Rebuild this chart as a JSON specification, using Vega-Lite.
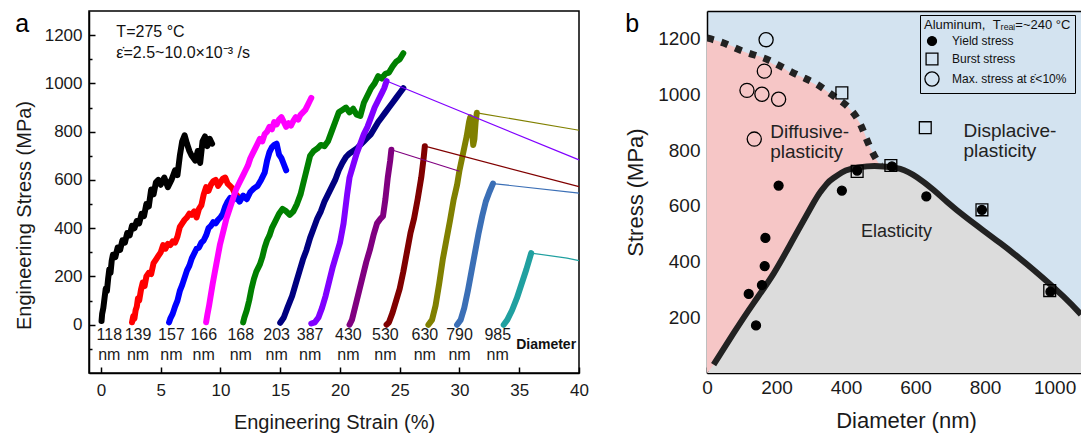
{
  "$schema": "https://vega.github.io/schema/vega-lite/v6.json",
  "padding": {"left": 13, "top": 10, "right": 0, "bottom": 0},
  "config": {
    "font": "Liberation Sans",
    "view": {"stroke": null},
    "axis": {"domainColor": "black", "domainWidth": 1.5, "tickColor": "black", "tickWidth": 1.5, "labelColor": "#1a1a1a", "titleColor": "#1a1a1a", "titleFontWeight": "normal", "grid": false, "labelFlush": false, "labelOverlap": false, "zindex": 1}
  },
  "datasets": {
    "curves": [
      {"c":"118","s":0.05,"v":15},{"c":"118","s":0.1,"v":45},{"c":"118","s":0.2,"v":70},{"c":"118","s":0.3,"v":110},{"c":"118","s":0.4,"v":150},{"c":"118","s":0.5,"v":140},{"c":"118","s":0.6,"v":190},{"c":"118","s":0.7,"v":230},{"c":"118","s":0.8,"v":215},{"c":"118","s":0.9,"v":265},{"c":"118","s":1.0,"v":290},{"c":"118","s":1.2,"v":280},{"c":"118","s":1.4,"v":320},{"c":"118","s":1.6,"v":310},{"c":"118","s":1.8,"v":350},{"c":"118","s":2.0,"v":340},{"c":"118","s":2.2,"v":380},{"c":"118","s":2.4,"v":370},{"c":"118","s":2.6,"v":410},{"c":"118","s":2.8,"v":400},{"c":"118","s":3.0,"v":430},{"c":"118","s":3.2,"v":420},{"c":"118","s":3.4,"v":460},{"c":"118","s":3.6,"v":450},{"c":"118","s":3.8,"v":500},{"c":"118","s":4.0,"v":490},{"c":"118","s":4.2,"v":560},{"c":"118","s":4.4,"v":540},{"c":"118","s":4.6,"v":590},{"c":"118","s":4.8,"v":600},{"c":"118","s":5.0,"v":580},{"c":"118","s":5.3,"v":610},{"c":"118","s":5.6,"v":570},{"c":"118","s":5.9,"v":600},{"c":"118","s":6.2,"v":640},{"c":"118","s":6.4,"v":620},{"c":"118","s":6.6,"v":700},{"c":"118","s":6.8,"v":760},{"c":"118","s":7.0,"v":785},{"c":"118","s":7.2,"v":750},{"c":"118","s":7.4,"v":720},{"c":"118","s":7.6,"v":700},{"c":"118","s":7.9,"v":680},{"c":"118","s":8.1,"v":720},{"c":"118","s":8.3,"v":670},{"c":"118","s":8.5,"v":760},{"c":"118","s":8.7,"v":780},{"c":"118","s":8.9,"v":740},{"c":"118","s":9.1,"v":770},{"c":"118","s":9.3,"v":750},
      {"c":"139","s":2.6,"v":10},{"c":"139","s":2.7,"v":35},{"c":"139","s":2.8,"v":25},{"c":"139","s":2.9,"v":60},{"c":"139","s":3.0,"v":75},{"c":"139","s":3.1,"v":110},{"c":"139","s":3.2,"v":100},{"c":"139","s":3.35,"v":145},{"c":"139","s":3.5,"v":175},{"c":"139","s":3.65,"v":160},{"c":"139","s":3.8,"v":200},{"c":"139","s":4.0,"v":215},{"c":"139","s":4.2,"v":210},{"c":"139","s":4.4,"v":255},{"c":"139","s":4.6,"v":270},{"c":"139","s":4.8,"v":285},{"c":"139","s":5.0,"v":300},{"c":"139","s":5.2,"v":330},{"c":"139","s":5.4,"v":315},{"c":"139","s":5.6,"v":335},{"c":"139","s":5.8,"v":330},{"c":"139","s":6.0,"v":345},{"c":"139","s":6.2,"v":340},{"c":"139","s":6.4,"v":365},{"c":"139","s":6.6,"v":405},{"c":"139","s":6.8,"v":420},{"c":"139","s":7.0,"v":435},{"c":"139","s":7.2,"v":445},{"c":"139","s":7.4,"v":460},{"c":"139","s":7.6,"v":455},{"c":"139","s":7.8,"v":470},{"c":"139","s":8.0,"v":445},{"c":"139","s":8.2,"v":480},{"c":"139","s":8.4,"v":495},{"c":"139","s":8.6,"v":540},{"c":"139","s":8.8,"v":570},{"c":"139","s":9.0,"v":555},{"c":"139","s":9.2,"v":580},{"c":"139","s":9.4,"v":595},{"c":"139","s":9.6,"v":600},{"c":"139","s":9.8,"v":575},{"c":"139","s":10.0,"v":590},{"c":"139","s":10.2,"v":605},{"c":"139","s":10.4,"v":610},{"c":"139","s":10.6,"v":585},{"c":"139","s":10.8,"v":575},{"c":"139","s":11.0,"v":565},{"c":"139","s":11.2,"v":545},{"c":"139","s":11.4,"v":535},
      {"c":"157","s":5.7,"v":10},{"c":"157","s":5.8,"v":25},{"c":"157","s":6.0,"v":45},{"c":"157","s":6.2,"v":75},{"c":"157","s":6.4,"v":100},{"c":"157","s":6.6,"v":140},{"c":"157","s":6.8,"v":165},{"c":"157","s":7.0,"v":195},{"c":"157","s":7.2,"v":225},{"c":"157","s":7.4,"v":245},{"c":"157","s":7.6,"v":275},{"c":"157","s":7.8,"v":295},{"c":"157","s":8.0,"v":315},{"c":"157","s":8.2,"v":320},{"c":"157","s":8.4,"v":340},{"c":"157","s":8.6,"v":350},{"c":"157","s":8.8,"v":370},{"c":"157","s":9.0,"v":400},{"c":"157","s":9.2,"v":410},{"c":"157","s":9.4,"v":425},{"c":"157","s":9.6,"v":420},{"c":"157","s":9.8,"v":435},{"c":"157","s":10.0,"v":445},{"c":"157","s":10.2,"v":460},{"c":"157","s":10.4,"v":490},{"c":"157","s":10.6,"v":510},{"c":"157","s":10.8,"v":525},{"c":"157","s":11.0,"v":515},{"c":"157","s":11.3,"v":530},{"c":"157","s":11.6,"v":510},{"c":"157","s":11.9,"v":535},{"c":"157","s":12.2,"v":520},{"c":"157","s":12.5,"v":550},{"c":"157","s":12.8,"v":565},{"c":"157","s":13.1,"v":575},{"c":"157","s":13.4,"v":600},{"c":"157","s":13.7,"v":630},{"c":"157","s":13.9,"v":680},{"c":"157","s":14.1,"v":715},{"c":"157","s":14.3,"v":735},{"c":"157","s":14.5,"v":745},{"c":"157","s":14.7,"v":750},{"c":"157","s":14.9,"v":705},{"c":"157","s":15.1,"v":690},{"c":"157","s":15.3,"v":665},{"c":"157","s":15.5,"v":640},
      {"c":"166","s":8.8,"v":10},{"c":"166","s":8.9,"v":40},{"c":"166","s":9.05,"v":80},{"c":"166","s":9.2,"v":125},{"c":"166","s":9.35,"v":170},{"c":"166","s":9.5,"v":210},{"c":"166","s":9.65,"v":250},{"c":"166","s":9.8,"v":290},{"c":"166","s":9.95,"v":330},{"c":"166","s":10.1,"v":360},{"c":"166","s":10.3,"v":400},{"c":"166","s":10.5,"v":440},{"c":"166","s":10.7,"v":470},{"c":"166","s":10.9,"v":500},{"c":"166","s":11.1,"v":530},{"c":"166","s":11.3,"v":560},{"c":"166","s":11.5,"v":580},{"c":"166","s":11.7,"v":600},{"c":"166","s":11.9,"v":620},{"c":"166","s":12.1,"v":640},{"c":"166","s":12.3,"v":660},{"c":"166","s":12.5,"v":690},{"c":"166","s":12.7,"v":710},{"c":"166","s":12.9,"v":730},{"c":"166","s":13.1,"v":750},{"c":"166","s":13.3,"v":770},{"c":"166","s":13.5,"v":760},{"c":"166","s":13.7,"v":790},{"c":"166","s":13.9,"v":800},{"c":"166","s":14.1,"v":820},{"c":"166","s":14.3,"v":810},{"c":"166","s":14.5,"v":840},{"c":"166","s":14.7,"v":830},{"c":"166","s":14.9,"v":850},{"c":"166","s":15.1,"v":860},{"c":"166","s":15.3,"v":840},{"c":"166","s":15.5,"v":820},{"c":"166","s":15.7,"v":835},{"c":"166","s":15.9,"v":825},{"c":"166","s":16.1,"v":845},{"c":"166","s":16.3,"v":860},{"c":"166","s":16.5,"v":850},{"c":"166","s":16.7,"v":870},{"c":"166","s":16.9,"v":880},{"c":"166","s":17.1,"v":890},{"c":"166","s":17.3,"v":910},{"c":"166","s":17.5,"v":930},{"c":"166","s":17.6,"v":940},
      {"c":"168","s":11.9,"v":10},{"c":"168","s":12.0,"v":30},{"c":"168","s":12.2,"v":60},{"c":"168","s":12.4,"v":100},{"c":"168","s":12.6,"v":150},{"c":"168","s":12.8,"v":190},{"c":"168","s":13.0,"v":220},{"c":"168","s":13.3,"v":250},{"c":"168","s":13.5,"v":280},{"c":"168","s":13.7,"v":320},{"c":"168","s":13.9,"v":350},{"c":"168","s":14.1,"v":370},{"c":"168","s":14.3,"v":400},{"c":"168","s":14.6,"v":430},{"c":"168","s":14.9,"v":460},{"c":"168","s":15.2,"v":480},{"c":"168","s":15.5,"v":470},{"c":"168","s":15.8,"v":455},{"c":"168","s":16.1,"v":470},{"c":"168","s":16.4,"v":500},{"c":"168","s":16.7,"v":540},{"c":"168","s":16.9,"v":580},{"c":"168","s":17.1,"v":620},{"c":"168","s":17.3,"v":660},{"c":"168","s":17.5,"v":700},{"c":"168","s":17.8,"v":720},{"c":"168","s":18.1,"v":730},{"c":"168","s":18.4,"v":745},{"c":"168","s":18.7,"v":740},{"c":"168","s":19.0,"v":760},{"c":"168","s":19.3,"v":800},{"c":"168","s":19.6,"v":840},{"c":"168","s":19.9,"v":880},{"c":"168","s":20.2,"v":890},{"c":"168","s":20.5,"v":900},{"c":"168","s":20.8,"v":880},{"c":"168","s":21.1,"v":895},{"c":"168","s":21.4,"v":870},{"c":"168","s":21.7,"v":865},{"c":"168","s":22.0,"v":920},{"c":"168","s":22.3,"v":950},{"c":"168","s":22.6,"v":980},{"c":"168","s":22.9,"v":1000},{"c":"168","s":23.2,"v":1030},{"c":"168","s":23.5,"v":1020},{"c":"168","s":23.8,"v":1040},{"c":"168","s":24.1,"v":1045},{"c":"168","s":24.4,"v":1070},{"c":"168","s":24.7,"v":1090},{"c":"168","s":25.0,"v":1100},{"c":"168","s":25.3,"v":1125},
      {"c":"203","s":15.0,"v":8},{"c":"203","s":15.3,"v":30},{"c":"203","s":15.6,"v":70},{"c":"203","s":16.0,"v":120},{"c":"203","s":16.3,"v":170},{"c":"203","s":16.6,"v":220},{"c":"203","s":16.9,"v":270},{"c":"203","s":17.2,"v":310},{"c":"203","s":17.5,"v":360},{"c":"203","s":17.8,"v":400},{"c":"203","s":18.1,"v":440},{"c":"203","s":18.4,"v":470},{"c":"203","s":18.7,"v":510},{"c":"203","s":19.0,"v":540},{"c":"203","s":19.3,"v":570},{"c":"203","s":19.6,"v":600},{"c":"203","s":19.9,"v":640},{"c":"203","s":20.2,"v":670},{"c":"203","s":20.5,"v":695},{"c":"203","s":20.8,"v":710},{"c":"203","s":21.1,"v":720},{"c":"203","s":21.4,"v":730},{"c":"203","s":21.7,"v":745},{"c":"203","s":22.0,"v":760},{"c":"203","s":22.3,"v":775},{"c":"203","s":22.6,"v":790},{"c":"203","s":22.9,"v":815},{"c":"203","s":23.2,"v":840},{"c":"203","s":23.5,"v":860},{"c":"203","s":23.8,"v":880},{"c":"203","s":24.1,"v":900},{"c":"203","s":24.4,"v":920},{"c":"203","s":24.7,"v":940},{"c":"203","s":25.0,"v":960},{"c":"203","s":25.3,"v":980},
      {"c":"387","s":17.6,"v":5},{"c":"387","s":17.9,"v":10},{"c":"387","s":18.2,"v":30},{"c":"387","s":18.5,"v":70},{"c":"387","s":18.8,"v":120},{"c":"387","s":19.1,"v":180},{"c":"387","s":19.4,"v":240},{"c":"387","s":19.7,"v":290},{"c":"387","s":20.0,"v":340},{"c":"387","s":20.3,"v":420},{"c":"387","s":20.6,"v":540},{"c":"387","s":20.8,"v":610},{"c":"387","s":21.1,"v":660},{"c":"387","s":21.4,"v":710},{"c":"387","s":21.7,"v":750},{"c":"387","s":22.0,"v":790},{"c":"387","s":22.3,"v":820},{"c":"387","s":22.6,"v":860},{"c":"387","s":22.9,"v":900},{"c":"387","s":23.2,"v":930},{"c":"387","s":23.5,"v":960},{"c":"387","s":23.7,"v":980},{"c":"387","s":23.9,"v":1010},
      {"c":"430","s":20.8,"v":0},{"c":"430","s":21.0,"v":20},{"c":"430","s":21.3,"v":80},{"c":"430","s":21.6,"v":140},{"c":"430","s":21.9,"v":200},{"c":"430","s":22.2,"v":260},{"c":"430","s":22.5,"v":310},{"c":"430","s":22.8,"v":370},{"c":"430","s":23.1,"v":420},{"c":"430","s":23.4,"v":440},{"c":"430","s":23.6,"v":450},{"c":"430","s":23.8,"v":520},{"c":"430","s":24.0,"v":610},{"c":"430","s":24.2,"v":680},{"c":"430","s":24.3,"v":725},
      {"c":"530","s":23.9,"v":0},{"c":"530","s":24.1,"v":10},{"c":"530","s":24.4,"v":50},{"c":"530","s":24.7,"v":100},{"c":"530","s":25.0,"v":150},{"c":"530","s":25.3,"v":220},{"c":"530","s":25.6,"v":300},{"c":"530","s":25.9,"v":380},{"c":"530","s":26.2,"v":440},{"c":"530","s":26.5,"v":520},{"c":"530","s":26.8,"v":610},{"c":"530","s":27.0,"v":690},{"c":"530","s":27.1,"v":740},
      {"c":"630","s":27.4,"v":0},{"c":"630","s":27.7,"v":20},{"c":"630","s":28.0,"v":80},{"c":"630","s":28.3,"v":170},{"c":"630","s":28.6,"v":270},{"c":"630","s":28.9,"v":350},{"c":"630","s":29.2,"v":430},{"c":"630","s":29.5,"v":515},{"c":"630","s":29.8,"v":580},{"c":"630","s":30.0,"v":640},{"c":"630","s":30.3,"v":710},{"c":"630","s":30.6,"v":780},{"c":"630","s":30.8,"v":840},{"c":"630","s":30.9,"v":860},{"c":"630","s":31.05,"v":800},{"c":"630","s":31.15,"v":745},{"c":"630","s":31.25,"v":770},{"c":"630","s":31.35,"v":840},{"c":"630","s":31.45,"v":878},
      {"c":"790","s":29.8,"v":0},{"c":"790","s":30.1,"v":20},{"c":"790","s":30.4,"v":70},{"c":"790","s":30.7,"v":140},{"c":"790","s":31.0,"v":220},{"c":"790","s":31.3,"v":300},{"c":"790","s":31.6,"v":380},{"c":"790","s":31.9,"v":450},{"c":"790","s":32.2,"v":510},{"c":"790","s":32.5,"v":550},{"c":"790","s":32.8,"v":585},
      {"c":"985","s":33.7,"v":0},{"c":"985","s":34.0,"v":20},{"c":"985","s":34.4,"v":60},{"c":"985","s":34.8,"v":110},{"c":"985","s":35.2,"v":170},{"c":"985","s":35.6,"v":230},{"c":"985","s":36.0,"v":297}
    ],
    "tails": [
      {"c":"387","s":23.9,"v":1010},{"c":"387","s":40,"v":683},
      {"c":"430","s":24.3,"v":725},{"c":"430","s":30.0,"v":636},
      {"c":"530","s":27.1,"v":740},{"c":"530","s":40,"v":572},
      {"c":"630","s":31.45,"v":878},{"c":"630","s":40,"v":806},
      {"c":"790","s":32.8,"v":585},{"c":"790","s":40,"v":545},
      {"c":"985","s":36.0,"v":297},{"c":"985","s":39.0,"v":276},{"c":"985","s":40,"v":266}
    ],
    "alabels": [
      {"s":0.7,"v":-41,"t":"118\nnm"},{"s":3.1,"v":-41,"t":"139\nnm"},{"s":5.9,"v":-41,"t":"157\nnm"},{"s":8.6,"v":-41,"t":"166\nnm"},{"s":11.7,"v":-41,"t":"168\nnm"},{"s":14.7,"v":-41,"t":"203\nnm"},{"s":17.5,"v":-41,"t":"387\nnm"},{"s":20.7,"v":-41,"t":"430\nnm"},{"s":23.8,"v":-41,"t":"530\nnm"},{"s":27.1,"v":-41,"t":"630\nnm"},{"s":30.0,"v":-41,"t":"790\nnm"},{"s":33.2,"v":-41,"t":"985\nnm"}
    ],
    "anotes": [
      {"s":1.29,"v":1191,"t":"T=275 °C"},
      {"s":1.29,"v":1105,"t":"\u03b5\u0307=2.5~10.0×10\u207b\u00b3 /s"}
    ],
    "gray": [
      {"d":0,"v":0},{"d":19,"v":30},{"d":77,"v":144},{"d":134,"v":251},{"d":192,"v":358},{"d":249,"v":483},{"d":307,"v":612},{"d":326,"v":650},{"d":345,"v":680},{"d":364,"v":700},{"d":388,"v":720},{"d":412,"v":732},{"d":460,"v":742},{"d":508,"v":742},{"d":556,"v":733},{"d":604,"v":703},{"d":652,"v":657},{"d":691,"v":614},{"d":748,"v":556},{"d":844,"v":466},{"d":940,"v":370},{"d":1026,"v":274},{"d":1076,"v":210}
    ],
    "solid": [
      {"d":19,"v":30},{"d":77,"v":144},{"d":134,"v":251},{"d":192,"v":358},{"d":249,"v":483},{"d":307,"v":612},{"d":326,"v":650},{"d":345,"v":680},{"d":364,"v":700},{"d":388,"v":720},{"d":412,"v":732},{"d":460,"v":742},{"d":508,"v":742},{"d":556,"v":733},{"d":604,"v":703},{"d":652,"v":657},{"d":691,"v":614},{"d":748,"v":556},{"d":844,"v":466},{"d":940,"v":370},{"d":1026,"v":274},{"d":1076,"v":210}
    ],
    "pink": [
      {"d":0,"v":1203,"lo":0},{"d":19,"v":1197,"lo":30},{"d":48,"v":1185,"lo":87},{"d":77,"v":1172,"lo":144},{"d":105,"v":1155,"lo":196},{"d":134,"v":1143,"lo":251},{"d":163,"v":1131,"lo":305},{"d":192,"v":1108,"lo":358},{"d":211,"v":1102,"lo":400},{"d":249,"v":1072,"lo":483},{"d":268,"v":1066,"lo":525},{"d":307,"v":1040,"lo":612},{"d":326,"v":1028,"lo":650},{"d":345,"v":1012,"lo":680},{"d":364,"v":995,"lo":700},{"d":388,"v":975,"lo":720},{"d":408,"v":953,"lo":730},{"d":441,"v":894,"lo":739},{"d":465,"v":822,"lo":742},{"d":489,"v":763,"lo":742},{"d":500,"v":742,"lo":742}
    ],
    "dash": [
      {"d":0,"v":1203},{"d":48,"v":1185},{"d":105,"v":1155},{"d":163,"v":1131},{"d":211,"v":1102},{"d":268,"v":1066},{"d":317,"v":1036},{"d":364,"v":995},{"d":408,"v":953},{"d":441,"v":894},{"d":465,"v":822},{"d":489,"v":763},{"d":500,"v":745}
    ],
    "pts": [
      {"d":388,"v":1006,"k":"Burst stress"},{"d":432,"v":724,"k":"Burst stress"},{"d":529,"v":745,"k":"Burst stress"},{"d":628,"v":881,"k":"Burst stress"},{"d":791,"v":586,"k":"Burst stress"},{"d":986,"v":296,"k":"Burst stress"},
      {"d":115,"v":1015,"k":"Max. stress at \u03b5\u0307<10%"},{"d":136,"v":840,"k":"Max. stress at \u03b5\u0307<10%"},{"d":158,"v":1001,"k":"Max. stress at \u03b5\u0307<10%"},{"d":165,"v":1084,"k":"Max. stress at \u03b5\u0307<10%"},{"d":170,"v":1197,"k":"Max. stress at \u03b5\u0307<10%"},{"d":206,"v":983,"k":"Max. stress at \u03b5\u0307<10%"},
      {"d":120,"v":284,"k":"Yield stress"},{"d":141,"v":171,"k":"Yield stress"},{"d":158,"v":316,"k":"Yield stress"},{"d":166,"v":384,"k":"Yield stress"},{"d":168,"v":485,"k":"Yield stress"},{"d":206,"v":673,"k":"Yield stress"},{"d":388,"v":655,"k":"Yield stress"},{"d":432,"v":727,"k":"Yield stress"},{"d":532,"v":742,"k":"Yield stress"},{"d":631,"v":634,"k":"Yield stress"},{"d":791,"v":586,"k":"Yield stress"},{"d":988,"v":292,"k":"Yield stress"}
    ],
    "btext": [
      {"d":182,"v":844,"t":"Diffusive-\nplasticity"},
      {"d":738,"v":847,"t":"Displacive-\nplasticity"}
    ]
  },
  "spacing": 128,
  "bounds": "flush",
  "resolve": {"scale": {"x": "independent", "y": "independent", "color": "independent", "strokeWidth": "independent"}},
  "hconcat": [
    {
      "width": 490,
      "height": 362,
      "view": {"stroke": "black", "strokeWidth": 1.5},
      "resolve": {"axis": {"y": "independent"}},
      "layer": [
        {
          "data": {"name": "curves"},
          "mark": {"type": "line", "strokeJoin": "round", "strokeCap": "round"},
          "encoding": {
            "x": {"field": "s", "type": "quantitative", "scale": {"domain": [-1, 40], "nice": false, "zero": false},
              "axis": {"title": "Engineering Strain (%)", "values": [0,2.5,5,7.5,10,12.5,15,17.5,20,22.5,25,27.5,30,32.5,35,37.5,40], "format": "d", "labelExpr": "datum.value % 5 === 0 ? datum.label : ''", "tickSize": {"condition": {"test": "datum.value % 5 === 0", "value": -6}, "value": -3}, "labelFontSize": 17, "titleFontSize": 20, "labelPadding": 15, "titlePadding": 14}},
            "y": {"field": "v", "type": "quantitative", "scale": {"domain": [-200, 1300], "nice": false, "zero": false},
              "axis": {"orient": "left", "title": "Engineering Stress (MPa)", "values": [0,200,400,600,800,1000,1200], "format": "d", "tickSize": -6, "labelFontSize": 17, "titleFontSize": 20, "labelPadding": 13, "titlePadding": 10, "titleY": 204}},
            "color": {"field": "c", "type": "nominal", "legend": null,
              "scale": {"domain": ["118","139","157","166","168","203","387","430","530","630","790","985"], "range": ["#000000","#ff0000","#0000ff","#ff00ff","#008000","#000080","#8000ff","#800080","#800000","#808000","#3b6fb6","#20a0a0"]}},
            "strokeWidth": {"field": "c", "type": "nominal", "legend": null,
              "scale": {"domain": ["118","139","157","166","168","203","387","430","530","630","790","985"], "range": [6,6,6,6,6,6,5,4,4,4.5,3.5,3]}}
          }
        },
        {
          "data": {"name": "tails"},
          "mark": {"type": "line", "strokeWidth": 1.2},
          "encoding": {
            "x": {"field": "s", "type": "quantitative"},
            "y": {"field": "v", "type": "quantitative",
              "axis": {"orient": "left", "values": [-100,100,300,500,700,900,1100], "tickSize": -3, "labels": false, "domain": false, "title": null}},
            "color": {"field": "c", "type": "nominal", "legend": null},
            "detail": {"field": "c"}
          }
        },
        {
          "data": {"name": "alabels"},
          "mark": {"type": "text", "fontSize": 16, "lineBreak": "\n", "lineHeight": 20, "align": "center", "baseline": "middle", "color": "#1a1a1a"},
          "encoding": {
            "x": {"field": "s", "type": "quantitative"},
            "y": {"field": "v", "type": "quantitative", "axis": null},
            "text": {"field": "t"}
          }
        },
        {
          "data": {"values": [{"s": 37.25, "v": -85, "t": "Diameter"}]},
          "mark": {"type": "text", "fontSize": 14, "fontWeight": "bold", "align": "center", "baseline": "middle", "color": "#111"},
          "encoding": {
            "x": {"field": "s", "type": "quantitative"},
            "y": {"field": "v", "type": "quantitative", "axis": null},
            "text": {"field": "t"}
          }
        },
        {
          "data": {"name": "anotes"},
          "mark": {"type": "text", "fontSize": 16, "align": "left", "baseline": "alphabetic", "color": "#111"},
          "encoding": {
            "x": {"field": "s", "type": "quantitative"},
            "y": {"field": "v", "type": "quantitative", "axis": null},
            "text": {"field": "t"}
          }
        },
        {
          "data": {"values": [{"s": -7.18, "v": 1212, "t": "a"}]},
          "mark": {"type": "text", "fontSize": 25, "align": "left", "baseline": "alphabetic", "color": "#000"},
          "encoding": {
            "x": {"field": "s", "type": "quantitative"},
            "y": {"field": "v", "type": "quantitative", "axis": null},
            "text": {"field": "t"}
          }
        }
      ]
    },
    {
      "width": 374,
      "height": 362,
      "view": {"stroke": null, "fill": "#d3e3f0"},
      "resolve": {"axis": {"x": "independent", "y": "independent"}},
      "layer": [
        {
          "data": {"name": "gray"},
          "mark": {"type": "area", "color": "#dcdcdc", "clip": true, "interpolate": "natural"},
          "encoding": {
            "x": {"field": "d", "type": "quantitative", "scale": {"domain": [0, 1076], "nice": false, "zero": false},
              "axis": {"orient": "top", "labels": false, "ticks": false, "title": null, "domain": true}},
            "y": {"field": "v", "type": "quantitative", "scale": {"domain": [0, 1300], "nice": false, "zero": false},
              "axis": {"orient": "left", "title": "Stress (MPa)", "values": [200,400,600,800,1000,1200], "format": "d", "tickSize": -6, "labelFontSize": 19, "titleFontSize": 22, "labelPadding": 13, "titlePadding": 10}},
            "y2": {"datum": 0}
          }
        },
        {
          "data": {"name": "pink"},
          "mark": {"type": "area", "color": "#f6c6c6", "clip": true, "interpolate": "natural"},
          "encoding": {
            "x": {"field": "d", "type": "quantitative", "axis": null},
            "y": {"field": "v", "type": "quantitative",
              "axis": {"orient": "left", "values": [100,300,500,700,900,1100], "tickSize": -3, "labels": false, "domain": false, "title": null}},
            "y2": {"field": "lo"}
          }
        },
        {
          "data": {"name": "solid"},
          "mark": {"type": "line", "color": "#222", "strokeWidth": 6, "interpolate": "natural", "clip": true},
          "encoding": {
            "x": {"field": "d", "type": "quantitative", "axis": null},
            "y": {"field": "v", "type": "quantitative", "axis": null}
          }
        },
        {
          "data": {"name": "dash"},
          "mark": {"type": "line", "color": "#222", "strokeWidth": 7, "strokeDash": [7, 8], "strokeCap": "butt", "interpolate": "natural", "clip": true},
          "encoding": {
            "x": {"field": "d", "type": "quantitative", "axis": null},
            "y": {"field": "v", "type": "quantitative", "axis": null}
          }
        },
        {
          "data": {"name": "pts"},
          "mark": {"type": "point", "filled": true, "stroke": "black", "strokeWidth": 1.3, "opacity": 1},
          "encoding": {
            "x": {"field": "d", "type": "quantitative",
              "axis": {"title": "Diameter (nm)", "values": [0,100,200,300,400,500,600,700,800,900,1000], "format": "d", "labelExpr": "datum.value % 200 === 0 ? datum.label : ''", "tickSize": {"condition": {"test": "datum.value % 200 === 0", "value": -6}, "value": -3}, "labelFontSize": 19, "titleFontSize": 22, "labelPadding": 11, "titlePadding": 10, "titleX": 199}},
            "y": {"field": "v", "type": "quantitative", "axis": null},
            "shape": {"field": "k", "type": "nominal",
              "scale": {"domain": ["Yield stress", "Burst stress", "Max. stress at \u03b5\u0307<10%"], "range": ["circle", "square", "circle"]},
              "legend": {"title": "\u00a0Aluminum,\u00a0\u00a0T\u1d63\u2091\u2090\u2097=~240 °C", "orient": "none", "legendX": 831, "legendY": 4, "padding": 4, "strokeColor": "black", "fillColor": "#d3e3f0", "titleFontSize": 13, "titleFontWeight": "normal", "titleColor": "#111", "labelFontSize": 12, "labelColor": "#111", "rowPadding": 1, "titlePadding": 3, "symbolStrokeColor": "black", "symbolStrokeWidth": 1.3, "labelOffset": 12, "cornerRadius": 0}},
            "fill": {"field": "k", "type": "nominal",
              "scale": {"domain": ["Yield stress", "Burst stress", "Max. stress at \u03b5\u0307<10%"], "range": ["black", "transparent", "transparent"]}},
            "size": {"field": "k", "type": "nominal",
              "scale": {"domain": ["Yield stress", "Burst stress", "Max. stress at \u03b5\u0307<10%"], "range": [80, 200, 210]}}
          }
        },
        {
          "data": {"name": "btext"},
          "mark": {"type": "text", "fontSize": 19, "lineBreak": "\n", "lineHeight": 20, "align": "left", "baseline": "alphabetic", "color": "#222"},
          "encoding": {
            "x": {"field": "d", "type": "quantitative", "axis": null},
            "y": {"field": "v", "type": "quantitative", "axis": null},
            "text": {"field": "t"}
          }
        },
        {
          "data": {"values": [{"d": 545, "v": 506, "t": "Elasticity"}]},
          "mark": {"type": "text", "fontSize": 18, "align": "center", "baseline": "middle", "color": "#222"},
          "encoding": {
            "x": {"field": "d", "type": "quantitative", "axis": null},
            "y": {"field": "v", "type": "quantitative", "axis": null},
            "text": {"field": "t"}
          }
        },
        {
          "data": {"values": [{"d": -235, "v": 1224, "t": "b"}]},
          "mark": {"type": "text", "fontSize": 25, "align": "left", "baseline": "alphabetic", "color": "#000"},
          "encoding": {
            "x": {"field": "d", "type": "quantitative", "axis": null},
            "y": {"field": "v", "type": "quantitative", "axis": null},
            "text": {"field": "t"}
          }
        }
      ]
    }
  ]
}
